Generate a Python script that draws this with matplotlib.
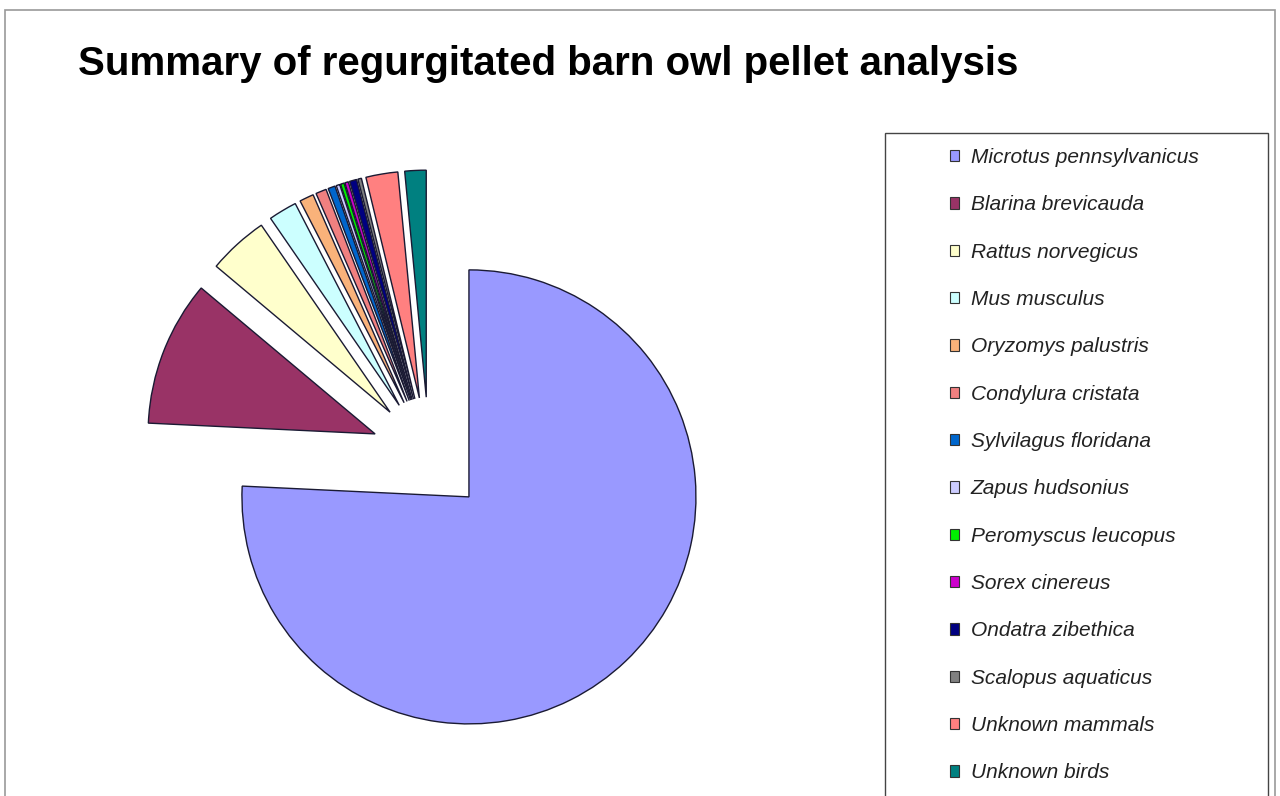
import matplotlib
matplotlib.use("Agg")
import matplotlib.pyplot as plt
from matplotlib.patches import Patch, Rectangle

species = [
    "Microtus pennsylvanicus", "Blarina brevicauda", "Rattus norvegicus",
    "Mus musculus", "Oryzomys palustris", "Condylura cristata",
    "Sylvilagus floridana", "Zapus hudsonius", "Peromyscus leucopus",
    "Sorex cinereus", "Ondatra zibethica", "Scalopus aquaticus",
    "Unknown mammals", "Unknown birds",
]
counts = [300, 41, 17, 8, 4, 3, 2, 1, 1, 1, 2, 1, 9, 6]
colors = [
    "#9999FF", "#993366", "#FFFFCC", "#CCFFFF", "#F9B27A", "#F08080",
    "#0066CC", "#CCCCFF", "#00EE00", "#CC00CC", "#000080", "#808080",
    "#FF8080", "#008080",
]

W, H = 1280, 796
fig = plt.figure(figsize=(W / 100, H / 100), dpi=100)
fig.patch.set_facecolor("white")

# pie: true centre at (429, 455) px, radius 227 px
cx, cy, r = 429, 455, 227
ax = fig.add_axes([0, 0, 1, 1])
ax.pie(counts, colors=colors, startangle=90, counterclock=False,
       explode=[0.255] * len(counts),
       wedgeprops=dict(edgecolor="#1a1a33", linewidth=1.0))
ax.set_xlim(-cx / r, (W - cx) / r)
ax.set_ylim(-(H - cy) / r, cy / r)
ax.set_aspect("auto")
ax.axis("off")

# outer chart frame and legend box
fig.patches.append(Rectangle((5 / W, -0.05), 1270 / W, 1.05 - 10 / H,
                             transform=fig.transFigure, fill=False,
                             edgecolor="#999999", linewidth=1.2))
fig.patches.append(Rectangle((885 / W, -0.05), 383 / W, 1.05 - 133 / H,
                             transform=fig.transFigure, fill=False,
                             edgecolor="#444444", linewidth=1.0))

fig.text(78 / W, 1 - 75 / H, "Summary of regurgitated barn owl pellet analysis",
         fontsize=29, fontweight="bold", family="Liberation Sans",
         va="baseline", ha="left", color="black")

handles = [Patch(facecolor=c, edgecolor="#333333", linewidth=0.8) for c in colors]
fig.legend(handles, species, loc="upper left",
           bbox_to_anchor=(950 / W, 1 - 148 / H), frameon=False,
           prop=dict(family="Liberation Sans", style="italic", size=15),
           labelcolor="#222222", handlelength=0.45, handleheight=0.45,
           handletextpad=0.55, labelspacing=1.36, borderpad=0, borderaxespad=0)

fig.savefig("out.png", dpi=100, facecolor="white")
